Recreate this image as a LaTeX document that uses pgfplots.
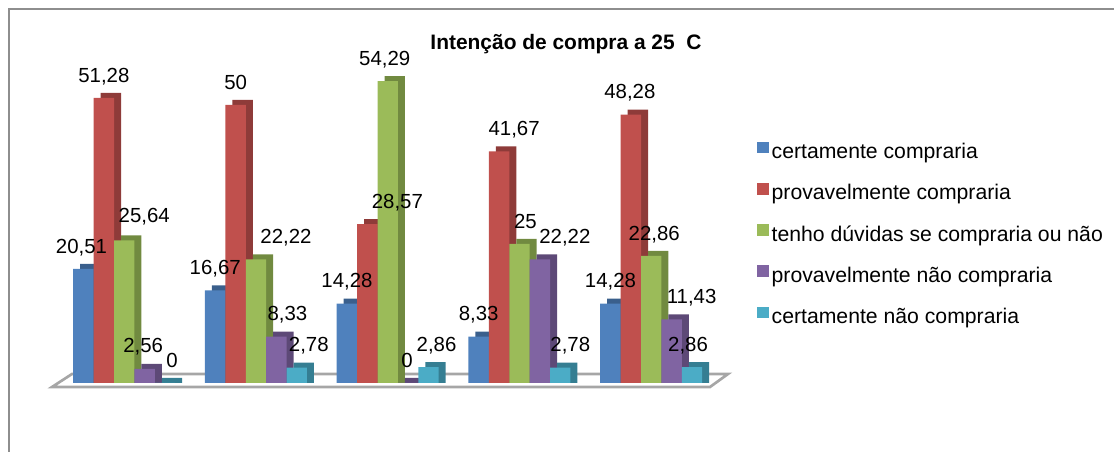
\documentclass[border=0pt]{standalone}
\usepackage{fontspec}
\setmainfont{Liberation Sans}
\usepackage{pgfplots}
\usepackage{pgfplotstable}
\pgfplotsset{compat=1.18}

\definecolor{cA}{HTML}{4F81BD}\definecolor{sA}{HTML}{3A5F8C}
\definecolor{cB}{HTML}{C0504D}\definecolor{sB}{HTML}{8E3B39}
\definecolor{cC}{HTML}{9BBB59}\definecolor{sC}{HTML}{718A40}
\definecolor{cD}{HTML}{8064A2}\definecolor{sD}{HTML}{5D4977}
\definecolor{cE}{HTML}{4BACC6}\definecolor{sE}{HTML}{357E92}
\definecolor{frame}{HTML}{8E8E8E}
\definecolor{floor}{HTML}{A6A6A6}

\pgfplotstableread{
x y lab dx dy
0 20.51 20,51 -2 0
1 16.67 16,67 0 0
2 14.28 14,28 0 0
3 8.33 8,33 0 0
4 14.28 14,28 0 0
}\tA
\pgfplotstableread{
x y lab dx dy
0 51.28 51,28 0 0
1 50 50 0 0
2 28.57 28,57 30 0
3 41.67 41,67 15 0
4 48.28 48,28 -1 0
}\tB
\pgfplotstableread{
x y lab dx dy
0 25.64 25,64 20 -2
1 22.22 22,22 30 0
2 54.29 54,29 -3 0
3 25 25 6 0
4 22.86 22,86 3 0
}\tC
\pgfplotstableread{
x y lab dx dy
0 2.56 2,56 -1.5 0
1 8.33 8,33 11 0
2 0 0 -1 0
3 22.22 22,22 25 0
4 11.43 11,43 20 0
}\tD
\pgfplotstableread{
x y lab dx dy
0 0 0 7 0
1 2.78 2,78 12 0
2 2.86 2,86 8 0
3 2.78 2,78 10 0
4 2.86 2,86 -4 0
}\tE

\pgfplotsset{
  front/.style n args={2}{ybar, bar width=15.3pt, draw=none, fill=#1, bar shift=#2,
    nodes near coords, point meta=explicit symbolic,
    visualization depends on={\thisrow{dx} \as \ldx},
    visualization depends on={\thisrow{dy} \as \ldy},
    every node near coord/.append style={font=\fontsize{15.3}{18}\selectfont,
      text=black, inner sep=0pt, text depth=0pt, anchor=south,
      xshift=\ldx*0.75pt+(#2), yshift=(15.5-\ldy)*0.75pt},
    legend image code/.code={\fill[##1] (0pt,0pt) rectangle (8.8pt,8.8pt);}},
  back/.style={ybar, bar width=15.3pt, draw=none, fill=#1, forget plot},
}

\begin{document}
\begin{tikzpicture}
\begin{scope}[x=0.75pt,y=0.75pt]
\useasboundingbox (0,0) rectangle (1114,452);
\draw[frame, line width=1.5pt] (9,0) -- (9,443) -- (1114,443);
\draw[floor, line width=2pt, line join=miter] (52,65) -- (72,78) -- (728,78) -- (710,65) -- cycle;
\node[anchor=base, inner sep=0pt, font=\bfseries\fontsize{15.7}{18}\selectfont] at (566,402.7) {Intenção de compra a 25~~C};
\end{scope}
\begin{axis}[
  at={(43.78pt,51.75pt)}, anchor=south west,
  scale only axis, width=494.06pt, height=250.2pt,
  xmin=-0.5, xmax=4.5, ymin=0, ymax=60,
  hide axis, clip=false,
  legend style={draw=none, fill=none, inner sep=0pt, outer sep=0pt,
    at={(1.0605,0.7233)}, anchor=north west,
    font=\fontsize{15.9}{19}\selectfont,
    row sep=14.6pt, column sep=2.25pt,
    nodes={inner sep=0pt, text height=11.5pt, text depth=3.5pt}},
  legend cell align=left,
]
\addplot[back=sA, bar shift=-25.35pt] table[x=x, y expr=\thisrow{y}+0.9]{\tA};
\addplot[front={cA}{-30.6pt}] table[x=x, y=y, meta=lab]{\tA};
\addplot[back=sB, bar shift=-10.05pt] table[x=x, y expr=\thisrow{y}+0.9]{\tB};
\addplot[front={cB}{-15.3pt}] table[x=x, y=y, meta=lab]{\tB};
\addplot[back=sC, bar shift=5.25pt] table[x=x, y expr=\thisrow{y}+0.9]{\tC};
\addplot[front={cC}{0pt}] table[x=x, y=y, meta=lab]{\tC};
\addplot[back=sD, bar shift=20.55pt] table[x=x, y expr=\thisrow{y}+0.9]{\tD};
\addplot[front={cD}{15.3pt}] table[x=x, y=y, meta=lab]{\tD};
\addplot[back=sE, bar shift=35.85pt] table[x=x, y expr=\thisrow{y}+0.9]{\tE};
\addplot[front={cE}{30.6pt}] table[x=x, y=y, meta=lab]{\tE};
\legend{certamente compraria, provavelmente compraria, tenho dúvidas se compraria ou não, provavelmente não compraria, certamente não compraria}
\end{axis}
\end{tikzpicture}
\end{document}
